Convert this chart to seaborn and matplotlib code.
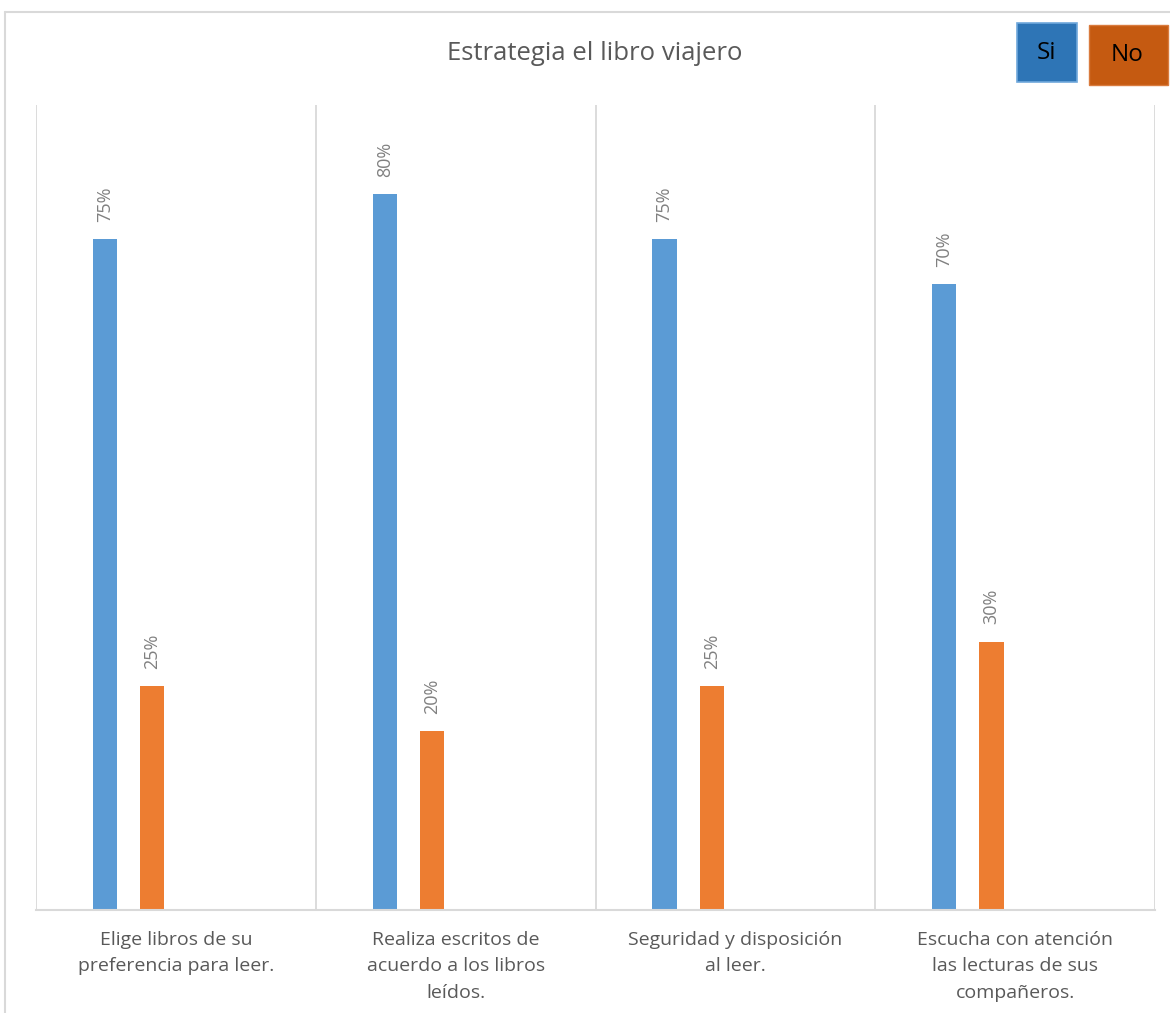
import matplotlib
matplotlib.use("Agg")
import matplotlib.pyplot as plt
from matplotlib.patches import Rectangle
from matplotlib.lines import Line2D
import seaborn as sns
import pandas as pd

categories = [
    "Elige libros de su\npreferencia para leer.",
    "Realiza escritos de\nacuerdo a los libros\nleídos.",
    "Seguridad y disposición\nal leer.",
    "Escucha con atención\nlas lecturas de sus\ncompañeros.",
]
si_values = [75, 80, 75, 70]
no_values = [25, 20, 25, 30]
series_names = ["Si", "No"]
title = "Estrategia el libro viajero"

# two empty slots per category, as in the original Excel chart
empty_a = [0, 0, 0, 0]
empty_b = [0, 0, 0, 0]

rows = []
for name, vals in zip(["Si", "No", "_a", "_b"], [si_values, no_values, empty_a, empty_b]):
    for c, v in zip(categories, vals):
        rows.append({"cat": c, "serie": name, "val": v})
df = pd.DataFrame(rows)

sns.set_theme(style="white")
plt.rcParams["font.family"] = ["Open Sans", "DejaVu Sans"]

W, H = 1170, 1013
fig = plt.figure(figsize=(W / 100, H / 100), dpi=100)
ax = fig.add_axes([36 / W, (H - 910) / H, (1155 - 36) / W, 805 / H])

palette = {"Si": "#5B9BD5", "No": "#ED7D31", "_a": "white", "_b": "white"}
sns.barplot(data=df, x="cat", y="val", hue="serie", hue_order=["Si", "No", "_a", "_b"],
            order=categories, palette=palette, width=0.676, gap=0.484,
            linewidth=0, legend=False, ax=ax, saturation=1)

for cont, vals in zip(ax.containers[:2], [si_values, no_values]):
    ax.bar_label(cont, labels=[f"{v}%" for v in vals], rotation=90, padding=12.5,
                 color="#808080", fontsize=13)

ax.set_ylim(0, 90)
ax.set_xlim(-0.5, 3.5)
ax.set_xlabel("")
ax.set_ylabel("")
ax.set_yticks([])
ax.set_xticks(range(4))
ax.set_xticklabels(categories, fontsize=14, color="#595959", linespacing=1.6)
ax.tick_params(axis="x", length=0, pad=15)
for b in [-0.5, 0.5, 1.5, 2.5, 3.5]:
    ax.axvline(b, color="#D9D9D9", lw=1.3, zorder=0)
for s in ["top", "right", "left"]:
    ax.spines[s].set_visible(False)
ax.spines["bottom"].set_color("#D9D9D9")
ax.spines["bottom"].set_linewidth(1.5)

fig.text(595 / W, 1 - 53 / H, title, ha="center", va="center", fontsize=18.5, color="#595959")

# legend boxes
fig.patches.append(Rectangle((1017 / W, 1 - 82 / H), 60 / W, 59 / H, transform=fig.transFigure,
                             facecolor="#2E75B6", edgecolor="#6FA8DC", lw=1.2))
fig.text(1046 / W, 1 - 53 / H, "Si", ha="center", va="center", fontsize=17.5, color="black")
fig.patches.append(Rectangle((1089 / W, 1 - 85 / H), 79 / W, 60 / H, transform=fig.transFigure,
                             facecolor="#C55A11", edgecolor="#D97B3E", lw=1.0))
fig.text(1127 / W, 1 - 55 / H, "No", ha="center", va="center", fontsize=17.5, color="black")

# outer chart border (partially visible)
fig.lines.append(Line2D([5 / W, 1], [1 - 12 / H, 1 - 12 / H], transform=fig.transFigure,
                        color="#D9D9D9", lw=1.5))
fig.lines.append(Line2D([5 / W, 5 / W], [0, 1 - 12 / H], transform=fig.transFigure,
                        color="#D9D9D9", lw=1.5))

fig.savefig("out.png", dpi=100)
